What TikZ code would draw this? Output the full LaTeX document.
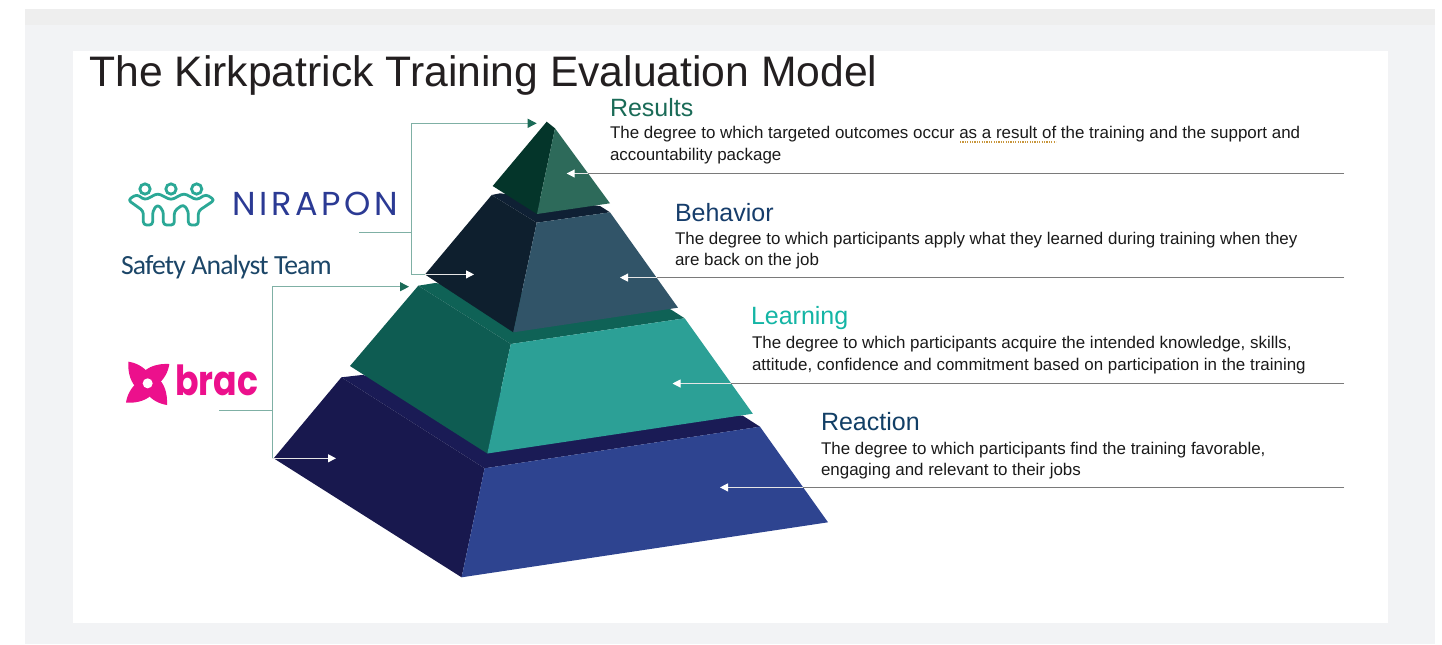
\documentclass[tikz,border=0pt]{standalone}
\usepackage{graphicx}
\usepackage{fontspec}
\setmainfont{Liberation Sans}
\newfontfamily\logofont[LetterSpace=11]{Poppins}
\newfontfamily\bracfont{Poppins}
\newfontfamily\teamfont[LetterSpace=-3]{Carlito}
\usetikzlibrary{arrows.meta}
\definecolor{bandgray}{HTML}{EEEEEE}
\definecolor{pagegray}{HTML}{F2F3F5}
\definecolor{titleink}{HTML}{231F20}
\definecolor{bodyink}{HTML}{1A1A1A}
\definecolor{resgreen}{HTML}{1A6B57}
\definecolor{behblue}{HTML}{163D6B}
\definecolor{learnteal}{HTML}{14B5A5}
\definecolor{reablue}{HTML}{123F66}
\definecolor{logoteal}{HTML}{2BA896}
\definecolor{logoblue}{HTML}{2B3A94}
\definecolor{brpink}{HTML}{EC108C}
\definecolor{teamink}{HTML}{1C4668}
\definecolor{linkteal}{HTML}{7FB0A5}
\definecolor{ruleink}{HTML}{7A7A7A}
\definecolor{wavy}{HTML}{C8963C}
\definecolor{aL}{HTML}{04352A}\definecolor{aR}{HTML}{2D6A5A}
\definecolor{bL}{HTML}{0E1F2E}\definecolor{bB}{HTML}{0F2034}\definecolor{bR}{HTML}{315468}
\definecolor{cL}{HTML}{0E5C52}\definecolor{cB}{HTML}{0F6256}\definecolor{cR}{HTML}{2CA096}
\definecolor{dL}{HTML}{18184E}\definecolor{dB}{HTML}{1A1B55}\definecolor{dR}{HTML}{2E4490}
\tikzset{
  txt/.style={inner sep=0pt,outer sep=0pt},
  titletext/.style={txt,anchor=base west,text=titleink,font=\fontsize{21.33}{26}\selectfont},
  headtext/.style={txt,anchor=base west,font=\fontsize{12.5}{15}\selectfont},
  bodytext/.style={txt,anchor=north west,align=left,text=bodyink,font=\fontsize{8.47}{10.7}\selectfont},
  link/.style={draw=linkteal,line width=0.5pt},
  linkarrow/.style={link,-{Triangle[length=4.5pt,width=4.5pt,color=resgreen]}},
  rule/.style={draw=ruleink,line width=0.55pt},
  inner/.style={draw=white!80!gray,line width=0.5pt,-{Triangle[length=4pt,width=4pt,color=white]}},
}
\begin{document}
\begin{tikzpicture}[x=0.5pt,y=-0.5pt]
\useasboundingbox (0,0) rectangle (1442,644);
% page
\fill[pagegray] (25,25) rectangle (1435,644);
\fill[bandgray] (25,9) rectangle (1435,25);
\fill[white] (73,51) rectangle (1388,623);
% pyramid: reaction
\fill[dB] (341.4,377.3) -- (361.7,375) -- (742.8,415.7) -- (760,426.7) -- (484.6,468.3) -- cycle;
\fill[dL] (273.7,458.3) -- (341.4,377.3) -- (484.6,468.3) -- (461.6,577.3) -- cycle;
\fill[dR] (484.6,468.3) -- (760,426.7) -- (828,522.3) -- (461.6,577.3) -- cycle;
% learning
\fill[cB] (418.3,285.7) -- (435,283) -- (670.6,309.3) -- (684.7,318.3) -- (510.8,344) -- cycle;
\fill[cL] (350,366) -- (418.3,285.7) -- (510.8,344) -- (487.3,453.5) -- cycle;
\fill[cR] (510.8,344) -- (684.7,318.3) -- (752.8,413.7) -- (487.3,453.5) -- cycle;
% behavior
\fill[bB] (491.7,195) -- (500,193.3) -- (600,206) -- (610,212.3) -- (536.7,222.7) -- cycle;
\fill[bL] (425,274.5) -- (491.7,195) -- (536.7,222.7) -- (513.3,332.3) -- cycle;
\fill[bR] (536.7,222.7) -- (610,212.3) -- (678,307.7) -- (513.3,332.3) -- cycle;
% results
\fill[aL] (492.7,186) -- (546.7,121.7) -- (555,128.3) -- (537,214) -- cycle;
\fill[aR] (555,128.3) -- (610,203.3) -- (537,214) -- cycle;
% title
\node[titletext] (title) at (89.5,86) {The Kirkpatrick Training Evaluation Model};
% text blocks
\node[headtext,text=resgreen] (reshead) at (610,116) {Results};
\node[bodytext] (resbody) at (610,126.5) {The degree to which targeted outcomes occur as a result of the training and the support and\\accountability package};
\draw[wavy,line width=0.8pt,dash pattern=on 0.6pt off 0.6pt] (960,142) -- (1056,142);
\node[headtext,text=behblue] (behhead) at (675,221) {Behavior};
\node[bodytext] (behbody) at (675,232) {The degree to which participants apply what they learned during training when they\\are back on the job};
\node[headtext,text=learnteal] (leahead) at (751,324) {Learning};
\node[bodytext] (leabody) at (752,336.5) {The degree to which participants acquire the intended knowledge, skills,\\attitude, confidence and commitment based on participation in the training};
\node[headtext,text=reablue] (reahead) at (821,430) {Reaction};
\node[bodytext] (reabody) at (821,442) {The degree to which participants find the training favorable,\\engaging and relevant to their jobs};
% connector ends
\coordinate (r1) at (1344,173.5); \coordinate (r1e) at (588,173.5); \coordinate (r1t) at (566.7,173.5);
\coordinate (r2) at (1344,277.6); \coordinate (r2e) at (656.5,277.6); \coordinate (r2t) at (620,277.6);
\coordinate (r3) at (1344,383.5); \coordinate (r3e) at (731,383.5); \coordinate (r3t) at (672.5,383.5);
\coordinate (r4) at (1344,487.4); \coordinate (r4e) at (803,487.4); \coordinate (r4t) at (720,487.4);
\draw[rule] (r1) -- (r1e); \draw[inner] (r1e) -- (r1t);
\draw[rule] (r2) -- (r2e); \draw[inner] (r2e) -- (r2t);
\draw[rule] (r3) -- (r3e); \draw[inner] (r3e) -- (r3t);
\draw[rule] (r4) -- (r4e); \draw[inner] (r4e) -- (r4t);
% left brackets
\coordinate (n0) at (359,232.3); \coordinate (nv) at (411.3,232.3);
\coordinate (nt) at (411.3,123.3); \coordinate (ntip) at (536.7,123.3);
\coordinate (nb) at (411.3,274.4); \coordinate (nc) at (425,274.4); \coordinate (nbt) at (474,274.4);
\draw[link] (n0) -- (nv);
\draw[linkarrow] (nb) -- (nt) -- (ntip);
\draw[link] (nb) -- (nc);
\draw[inner] (nc) -- (nbt);
\coordinate (b0) at (219.3,410.3); \coordinate (bv) at (272.3,410.3);
\coordinate (bt) at (272.3,286.7); \coordinate (btip) at (409,286.7);
\coordinate (bb) at (272.3,458.3); \coordinate (bbt) at (336,458.3);
\draw[link] (b0) -- (bv);
\draw[linkarrow] (bb) -- (bt) -- (btip);
\draw[inner] (bb) -- (bbt);
% nirapon logo
\begin{scope}[shift={(120,175)},x=0.16667pt,y=-0.16667pt]
 \draw[logoteal,line width=1.4pt] (75,42) circle[radius=15.5] (153,42) circle[radius=15.5] (230,42) circle[radius=15.5];
 \draw[logoteal,line width=1.4pt,line join=round,rounded corners=1.6pt]
  (24,75) -- (50,58) -- (75,75) -- (113,55) -- (153,75) -- (192,55) -- (230,75) -- (258,58) -- (284,75)
  -- (235,108) -- (235,150) -- (205,150) -- (205,108) -- (190,88) -- (163,108) -- (163,150) -- (130,150) -- (130,108) -- (113,88) -- (98,108) -- (98,150) -- (70,150) -- (70,108) -- cycle;
\end{scope}
\node[txt,anchor=base west,text=logoblue,font=\logofont] (nirapon) at (232,215) {\resizebox*{83pt}{11.8pt}{NIRAPON}};
\node[txt,anchor=base west,text=teamink,font=\teamfont\fontsize{13.85}{16}\selectfont] (team) at (121,274.5) {Safety Analyst Team};
% brac logo
\begin{scope}[shift={(100,270)},x=0.16667pt,y=-0.16667pt,shift={(143,340)}]
 \fill[brpink] (0,0) circle[radius=34];
 \foreach \a in {0,90,180,270}{
  \fill[brpink,rotate=\a] (-58,-65) .. controls (-38,-62) and (-12,-52) .. (6,-26)
    -- (-30,16) .. controls (-50,0) and (-60,-30) .. cycle;
 }
 \fill[white] (0,0) circle[radius=15];
\end{scope}
\node[txt,anchor=base west,text=brpink,font=\bracfont\bfseries] (brac) at (175,395) {\resizebox*{41.5pt}{15.5pt}{brac}};
\end{tikzpicture}
\end{document}
